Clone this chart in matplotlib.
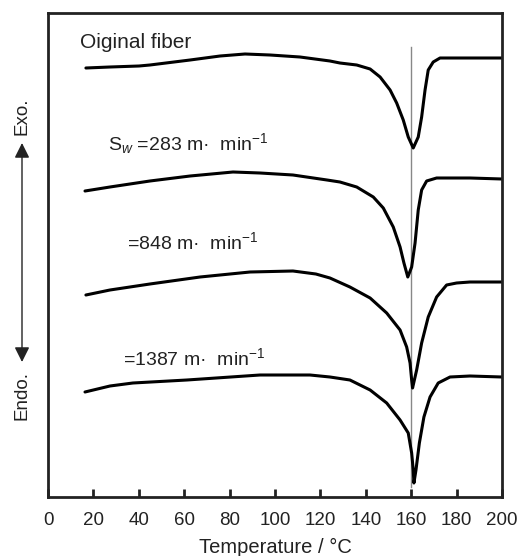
import matplotlib
matplotlib.use("Agg")
import matplotlib.pyplot as plt
import matplotlib.patches as mpatches

plt.rcParams['font.family'] = ['Liberation Sans', 'DejaVu Sans']
plt.rcParams['mathtext.fontset'] = 'custom'
plt.rcParams['mathtext.rm'] = 'Liberation Sans'
plt.rcParams['mathtext.it'] = 'Liberation Sans:italic'
plt.rcParams['mathtext.default'] = 'regular'

# Temperature (°C) and heat-flow (arbitrary units, traces offset) for each trace
t_orig = [16.7, 27.3, 40.1, 44.9, 62.6, 75.8, 86.8, 97.8, 111.0, 124.2, 128.6, 136.0,
          141.9, 146.3, 150.7, 153.6, 156.5, 158.7, 160.9, 163.1, 164.6, 166.1,
          167.5, 169.7, 172.7, 186.0, 200.0]
h_orig = [429, 430, 431, 432, 437, 441, 443, 442, 440, 436, 434, 432,
          428, 420, 407, 394, 377, 360, 349, 360, 380, 407,
          427, 435, 439, 439, 439]

t_283 = [16.3, 27.3, 44.9, 62.6, 81.5, 93.4, 107.9, 122.9, 128.6, 136.0, 143.3,
         147.7, 152.1, 155.1, 156.8, 158.5, 160.2, 161.7, 163.1, 164.6, 166.8,
         171.2, 185.9, 200.0]
h_283 = [306, 310, 316, 321, 325, 324, 322, 317, 315, 310, 300,
         289, 270, 250, 234, 220, 230, 254, 287, 307, 316,
         319, 319, 318]

t_848 = [16.7, 27.3, 44.9, 67.0, 89.0, 107.9, 118.0, 124.2, 133.0, 141.9, 149.2,
         155.1, 158.0, 159.5, 160.2, 160.6, 162.4, 164.6, 167.5, 171.2, 175.6,
         180.0, 185.9, 200.0]
h_848 = [202, 207, 213, 220, 225, 226, 223, 219, 210, 199, 184,
         167, 150, 134, 117, 109, 127, 154, 180, 200, 212,
         214, 215, 215]

t_1387 = [16.3, 27.3, 37.4, 61.2, 93.4, 115.4, 124.2, 133.0, 141.9, 149.2, 155.1,
          158.7, 160.2, 160.9, 161.2, 162.1, 163.6, 165.6, 168.3, 171.9, 177.1,
          185.9, 200.0]
h_1387 = [105, 111, 114, 117, 122, 122, 120, 117, 107, 94, 77,
          64, 44, 27, 14, 27, 54, 80, 100, 114, 120,
          121, 120]

x_ticks = [0, 20, 40, 60, 80, 100, 120, 140, 160, 180, 200]
ref_temp = 160

TXT = '#222222'

fig = plt.figure(figsize=(5.19, 5.56), dpi=100)
ax = fig.add_axes([48/519, 59/556, 454/519, 484/556])

for t, h in [(t_orig, h_orig), (t_283, h_283), (t_848, h_848), (t_1387, h_1387)]:
    ax.plot(t, h, color='black', lw=2.2, solid_joinstyle='round', solid_capstyle='round')

ax.plot([ref_temp, ref_temp], [10, 450], color='#888888', lw=1.0, zorder=1)

ax.set_xlim(0, 200)
ax.set_ylim(0, 484)
ax.set_xticks(x_ticks)
ax.set_yticks([])
ax.tick_params(axis='x', direction='in', length=6, width=2, labelsize=13.5, pad=11,
               labelcolor=TXT, color=TXT)
for s in ax.spines.values():
    s.set_linewidth(2)
    s.set_color(TXT)
ax.set_xlabel('Temperature / °C', fontsize=14.5, color=TXT, labelpad=6)

ax.text(14.0, 455, 'Oiginal fiber', fontsize=15, va='center', ha='left', color=TXT)
ax.text(26.4, 353, 'S$_\\mathit{w}$ =283 m·  min$^{-1}$', fontsize=14, va='center', ha='left', color=TXT)
ax.text(35.0, 255, '=848 m·  min$^{-1}$', fontsize=14, va='center', ha='left', color=TXT)
ax.text(33.0, 139, '=1387 m·  min$^{-1}$', fontsize=14, va='center', ha='left', color=TXT)

# Exo/Endo arrow
fig.patches.append(mpatches.FancyArrowPatch(
    (22/519, 1 - 143/556), (22/519, 1 - 362/556), transform=fig.transFigure,
    arrowstyle='<|-|>,head_length=9,head_width=4.5', color=TXT, lw=1.0, shrinkA=0, shrinkB=0))
fig.text(22/519, 1 - 116/556, 'Exo.', rotation=90, ha='center', va='center', fontsize=13.5, color=TXT)
fig.text(22/519, 1 - 395/556, 'Endo.', rotation=90, ha='center', va='center', fontsize=13.5, color=TXT)

fig.savefig('out.png', dpi=100)
